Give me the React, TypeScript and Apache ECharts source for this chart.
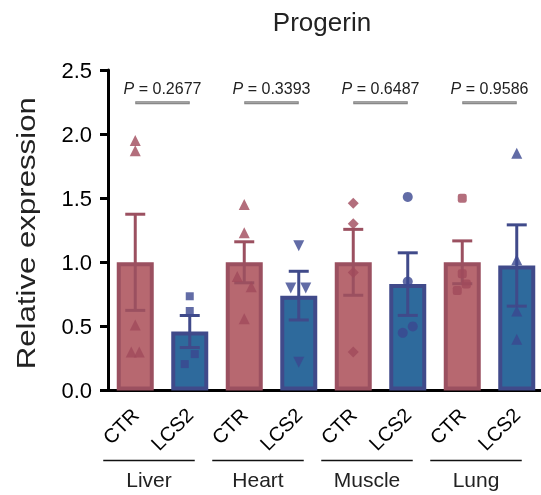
import React, { useEffect, useRef } from "react";
import * as echarts from "echarts";

const categories = ["CTR", "LCS2", "CTR", "LCS2", "CTR", "LCS2", "CTR", "LCS2"];
const tissues = ["Liver", "Heart", "Muscle", "Lung"];
const pValues = ["0.2677", "0.3393", "0.6487", "0.9586"];
const means = [1.0, 0.46, 1.0, 0.74, 1.0, 0.83, 1.0, 0.975];
const sems = [0.375, 0.125, 0.16, 0.19, 0.257, 0.244, 0.167, 0.317];
const yTicks = [0, 0.5, 1.0, 1.5, 2.0, 2.5];

// individual points per bar
const liverCtr = [1.95, 1.87, 0.51, 0.3, 0.3];
const liverLcs2 = [0.735, 0.62, 0.284, 0.206];
const heartCtr = [1.45, 1.23, 0.89, 0.81, 0.56];
const heartLcs2 = [1.13, 0.8, 0.8, 0.22];
const muscleCtr = [1.46, 1.3, 0.92, 0.3];
const muscleLcs2 = [1.51, 0.85, 0.5, 0.45];
const lungCtr = [1.5, 0.91, 0.83, 0.78];
const lungLcs2 = [1.85, 1.02, 0.62, 0.4];

// horizontal jitter (px) of points
const liverCtrJit = [0, 0, 0, -4, 4];
const liverLcs2Jit = [0, 0, 5, -5];
const heartCtrJit = [0, 0, -7, 7, 0];
const heartLcs2Jit = [0, -8, 7, 0];
const muscleCtrJit = [0, 0, 0, 0];
const muscleLcs2Jit = [0, 0, 5, -5];
const lungCtrJit = [0, 0, 4, -5];
const lungLcs2Jit = [0, 0, 0, 0];

const FONT = "'Liberation Sans', Arial, Helvetica, sans-serif";
const CTR_FILL = "#B76870";
const CTR_BORDER = "#9B5060";
const CTR_MARK = "#A04A5B";
const LCS_FILL = "#2E6A9C";
const LCS_BORDER = "#404A8A";
const LCS_MARK = "#3B4790";

export default function App() {
  const ref = useRef<HTMLDivElement>(null);
  useEffect(() => {
    if (!ref.current) return;
    const chart = echarts.init(ref.current, null, { renderer: "svg" });
    const isCtr = (i: number) => i % 2 === 0;

    const pointSets = [
      { vals: liverCtr, jit: liverCtrJit, symbol: "triangle", rot: 0, size: 11 },
      { vals: liverLcs2, jit: liverLcs2Jit, symbol: "rect", rot: 0, size: 8 },
      { vals: heartCtr, jit: heartCtrJit, symbol: "triangle", rot: 0, size: 11 },
      { vals: heartLcs2, jit: heartLcs2Jit, symbol: "triangle", rot: 180, size: 11 },
      { vals: muscleCtr, jit: muscleCtrJit, symbol: "diamond", rot: 0, size: 11 },
      { vals: muscleLcs2, jit: muscleLcs2Jit, symbol: "circle", rot: 0, size: 10 },
      { vals: lungCtr, jit: lungCtrJit, symbol: "roundRect", rot: 0, size: 9 },
      { vals: lungLcs2, jit: lungLcs2Jit, symbol: "triangle", rot: 0, size: 11 },
    ];

    const scatterSeries = pointSets.map((ps, i) => ({
      type: "scatter",
      z: 5,
      symbol: ps.symbol,
      symbolRotate: ps.rot,
      symbolSize: ps.size,
      itemStyle: { color: isCtr(i) ? CTR_MARK : LCS_MARK },
      data: ps.vals.map((v, k) => ({ value: [i, v], symbolOffset: [ps.jit[k], 0] })),
    }));

    chart.setOption({
      animation: false,
      grid: { left: 108, top: 70, right: 0, bottom: 104.5 },
      xAxis: {
        type: "category",
        data: categories,
        axisLine: { lineStyle: { color: "#000", width: 3 } },
        axisTick: { alignWithLabel: true, length: 9, lineStyle: { color: "#000", width: 3 } },
        axisLabel: {
          rotate: 45,
          interval: 0,
          margin: 21,
          color: "#000",
          fontSize: 20,
          fontFamily: FONT,
        },
      },
      yAxis: {
        type: "value",
        min: 0,
        max: 2.5,
        interval: 0.5,
        splitLine: { show: false },
        axisLine: { show: true, lineStyle: { color: "#000", width: 3 } },
        axisTick: { show: true, length: 8, lineStyle: { color: "#000", width: 3 } },
        axisLabel: {
          margin: 16,
          color: "#000",
          fontSize: 22,
          fontFamily: FONT,
          formatter: (v: number) => (yTicks.includes(v) ? v.toFixed(1) : ""),
        },
      },
      series: [
        {
          type: "bar",
          z: 2,
          barWidth: 37,
          data: means.map((m, i) => ({
            value: m,
            itemStyle: {
              color: isCtr(i) ? CTR_FILL : LCS_FILL,
              borderColor: isCtr(i) ? CTR_BORDER : LCS_BORDER,
              borderWidth: 4,
            },
          })),
        },
        {
          type: "custom",
          z: 4,
          data: means.map((m, i) => [i, m - sems[i], m + sems[i]]),
          renderItem: (params: any, api: any) => {
            const i = api.value(0);
            const lo = api.coord([i, api.value(1)]);
            const hi = api.coord([i, api.value(2)]);
            const color = i % 2 === 0 ? CTR_BORDER : LCS_BORDER;
            const hw = 10;
            const st = { stroke: color, lineWidth: 3 };
            return {
              type: "group",
              children: [
                { type: "line", shape: { x1: lo[0], y1: lo[1], x2: hi[0], y2: hi[1] }, style: st },
                { type: "line", shape: { x1: hi[0] - hw, y1: hi[1], x2: hi[0] + hw, y2: hi[1] }, style: st },
                { type: "line", shape: { x1: lo[0] - hw, y1: lo[1], x2: lo[0] + hw, y2: lo[1] }, style: st },
              ],
            };
          },
        },
        ...scatterSeries,
      ],
    } as any);

    const px = (i: number, v: number) =>
      chart.convertToPixel({ xAxisIndex: 0, yAxisIndex: 0 }, [i, v]) as number[];
    const axisY = px(0, 0)[1];
    const graphics: any[] = [
      {
        type: "text",
        x: 322,
        y: 22,
        style: { text: "Progerin", fontSize: 26, fontFamily: FONT, fill: "#222", align: "center", verticalAlign: "middle" },
      },
      {
        type: "text",
        x: 26,
        y: (px(0, 0)[1] + px(0, 2.5)[1]) / 2 + 3,
        rotation: Math.PI / 2,
        scaleX: 1.2,
        style: {
          text: "Relative expression",
          fontSize: 26,
          fontFamily: FONT,
          fill: "#222",
          align: "center",
          verticalAlign: "middle",
        },
      },
    ];
    tissues.forEach((t, g) => {
      const a = px(2 * g, 0);
      const b = px(2 * g + 1, 0);
      const pl = px(2 * g, 2.355);
      const ul = px(2 * g, 2.245);
      graphics.push({
        type: "text",
        x: (a[0] + b[0]) / 2,
        y: pl[1],
        style: {
          text: "{i|P} = " + pValues[g],
          fontSize: 16,
          fontFamily: FONT,
          fill: "#222",
          align: "center",
          verticalAlign: "middle",
          rich: { i: { fontStyle: "italic", fontSize: 16, fontFamily: FONT, fill: "#222" } },
        },
      });
      graphics.push({
        type: "line",
        shape: { x1: a[0], y1: ul[1], x2: b[0], y2: ul[1] },
        style: { stroke: "#808080", lineWidth: 3 },
      });
      graphics.push({
        type: "line",
        shape: { x1: a[0] + 1, y1: ul[1], x2: b[0] - 1, y2: ul[1] },
        style: { stroke: "#aaaaaa", lineWidth: 1 },
      });
      const lx1 = a[0] - 32;
      const lx2 = b[0] + 5;
      graphics.push({
        type: "line",
        shape: { x1: lx1, y1: axisY + 70, x2: lx2, y2: axisY + 70 },
        style: { stroke: "#111", lineWidth: 1.5 },
      });
      graphics.push({
        type: "text",
        x: (lx1 + lx2) / 2,
        y: axisY + 89,
        style: { text: t, fontSize: 21, fontFamily: FONT, fill: "#222", align: "center", verticalAlign: "middle" },
      });
    });
    chart.setOption({ graphic: graphics } as any);

    return () => chart.dispose();
  }, []);
  return (
    <div style={{ position: "fixed", left: 0, top: 0, width: 541, height: 495, overflow: "hidden" }}>
      <div ref={ref} style={{ position: "absolute", left: 0, top: 0, width: 544, height: 495 }} />
    </div>
  );
}
